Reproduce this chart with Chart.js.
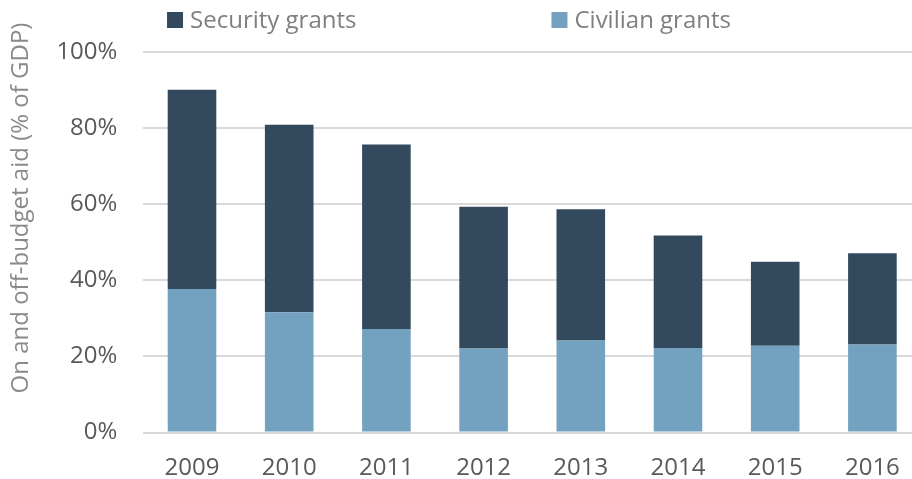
<!DOCTYPE html>
<html>
<head>
<meta charset="utf-8">
<script src="https://cdn.jsdelivr.net/npm/chart.js@4"></script>
<style>
  html, body { margin: 0; padding: 0; background: #ffffff; overflow: hidden; }
  #wrap { width: 930px; height: 479px; }
</style>
</head>
<body>
<div id="wrap"><canvas id="c" width="930" height="479"></canvas></div>
<script>
// Aid to the government, on and off budget, as a share of GDP
const years = ['2009', '2010', '2011', '2012', '2013', '2014', '2015', '2016'];
const civilianGrants = [37.7, 31.6, 27.2, 22.1, 24.2, 22.2, 22.8, 23.1];
const securityGrants = [52.4, 49.3, 48.5, 37.2, 34.5, 29.6, 22.1, 24.0];
const yTicks = [0, 20, 40, 60, 80, 100];
const yTitle = 'On and off-budget aid (% of GDP)';

const FONT = '"Open Sans", "Liberation Sans", sans-serif';

// Legend row across the top plus the rotated y-axis title
const decorations = {
  id: 'decorations',
  afterDraw(chart) {
    const ctx = chart.ctx;
    ctx.save();
    // legend: top-most stack first
    const items = chart.data.datasets.slice().reverse();
    const box = 16, boxGap = 7, itemGap = 195, centerX = 449, midY = 20;
    ctx.font = '24px ' + FONT;
    const widths = items.map(d => ctx.measureText(d.label).width);
    const total = widths.reduce((s, w) => s + box + boxGap + w, 0) + itemGap * (items.length - 1);
    let x = centerX - total / 2;
    ctx.textBaseline = 'middle';
    ctx.textAlign = 'left';
    items.forEach((d, i) => {
      ctx.fillStyle = d.backgroundColor;
      ctx.fillRect(x, midY - box / 2, box, box);
      ctx.fillStyle = '#7f7f7f';
      ctx.fillText(d.label, x + box + boxGap, midY + 1);
      x += box + boxGap + widths[i] + itemGap;
    });
    // y-axis title
    ctx.translate(21, 208);
    ctx.rotate(-Math.PI / 2);
    ctx.font = '24px ' + FONT;
    ctx.textAlign = 'center';
    ctx.fillStyle = '#8a8a8a';
    ctx.fillText(yTitle, 0, 0);
    ctx.restore();
  }
};

new Chart(document.getElementById('c'), {
  type: 'bar',
  data: {
    labels: years,
    datasets: [
      {
        label: 'Civilian grants',
        data: civilianGrants,
        backgroundColor: '#72a2c0',
        borderWidth: 0
      },
      {
        label: 'Security grants',
        data: securityGrants,
        backgroundColor: '#33495e',
        borderWidth: 0
      }
    ]
  },
  options: {
    responsive: false,
    animation: false,
    layout: { padding: { top: 52, right: 9, left: 0, bottom: 0 } },
    datasets: { bar: { categoryPercentage: 1.0, barPercentage: 0.5 } },
    plugins: {
      legend: { display: false },
      tooltip: { enabled: false }
    },
    scales: {
      x: {
        stacked: true,
        grid: { display: false, drawTicks: false },
        border: { display: false },
        ticks: {
          color: '#595959',
          font: { family: FONT, size: 24 },
          padding: 21,
          maxRotation: 0
        },
        afterFit(scale) { scale.height = 46.5; }
      },
      y: {
        stacked: true,
        min: 0,
        max: 100,
        afterBuildTicks(scale) { scale.ticks = yTicks.map(v => ({ value: v })); },
        grid: { color: '#d9d9d9', lineWidth: 2, drawTicks: false },
        border: { display: false },
        ticks: {
          color: '#595959',
          font: { family: FONT, size: 24 },
          padding: 26,
          callback: v => v + '%'
        },
        afterFit(scale) { scale.width = 143.4; }
      }
    }
  },
  plugins: [decorations]
});
</script>
</body>
</html>
